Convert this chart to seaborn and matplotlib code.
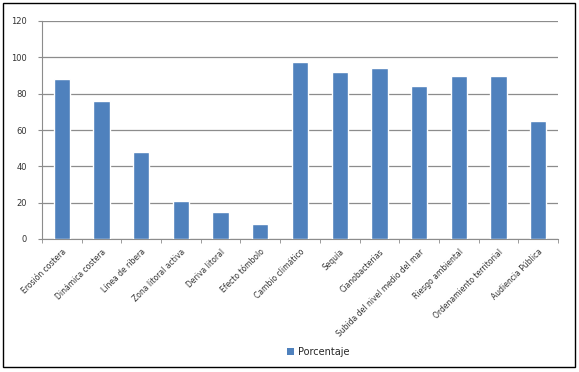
import matplotlib
matplotlib.use("Agg")
import matplotlib.pyplot as plt
import seaborn as sns
import pandas as pd
from matplotlib.patches import Rectangle, Patch

categories = ["Erosión costera", "Dinámica costera", "Línea de ribera", "Zona litoral activa",
              "Deriva litoral", "Efecto tómbolo", "Cambio climático", "Sequía", "Cianobacterias",
              "Subida del nivel medio del mar", "Riesgo ambiental", "Ordenamiento territorial",
              "Audiencia Pública"]
values = [88.2, 75.8, 48.0, 20.7, 14.9, 8.1, 97.2, 91.9, 94.1, 84.0, 89.9, 89.9, 64.8]
series_name = "Porcentaje"
yticks = [0, 20, 40, 60, 80, 100, 120]

df = pd.DataFrame({"cat": categories, "val": values})

sns.set_style("white")
plt.rcParams['font.family'] = ['DejaVu Sans']

fig = plt.figure(figsize=(5.79, 3.72), dpi=100)
ax = fig.add_axes([42/579, 1 - 239/372, (558-42)/579, (239-21)/372])

sns.barplot(data=df, x="cat", y="val", color="#4F81BD", width=0.41, saturation=1, ax=ax, zorder=3)

ax.set_ylim(0, 120)
ax.set_xlim(-0.5, len(categories) - 0.5)
ax.set_yticks(yticks)
ax.set_yticklabels([str(t) for t in yticks], fontsize=6, color="#333333")
ax.yaxis.grid(True, color="#8c8c8c", linewidth=0.9, zorder=0)
ax.set_axisbelow(True)
ax.tick_params(axis='y', length=3, color="#8c8c8c", pad=8, left=True)

ax.set_xticks(range(len(categories)))
ax.set_xticklabels(categories, rotation=45, ha='right', rotation_mode='anchor', fontsize=5.5, color="#333333")
ax.tick_params(axis='x', which='major', length=0, pad=6)
ax.set_xticks([i - 0.5 for i in range(len(categories) + 1)], minor=True)
ax.tick_params(axis='x', which='minor', length=3, color="#8c8c8c", bottom=True)

ax.set_xlabel("")
ax.set_ylabel("")
for s in ["top", "right"]:
    ax.spines[s].set_visible(False)
ax.spines["left"].set_color("#8c8c8c")
ax.spines["bottom"].set_color("#8c8c8c")

fig.legend(handles=[Patch(facecolor="#4F81BD", edgecolor="none", label=series_name)],
           loc="center", bbox_to_anchor=(318/579, 1 - 352/372), frameon=False,
           fontsize=7, handlelength=0.7, handleheight=0.7, handletextpad=0.4)

fig.patches.append(Rectangle((3/579, 1 - 367/372), (575-3)/579, (367-3)/372,
                             transform=fig.transFigure, fill=False, edgecolor="black", linewidth=1.0))

fig.savefig("out.png", dpi=100)
